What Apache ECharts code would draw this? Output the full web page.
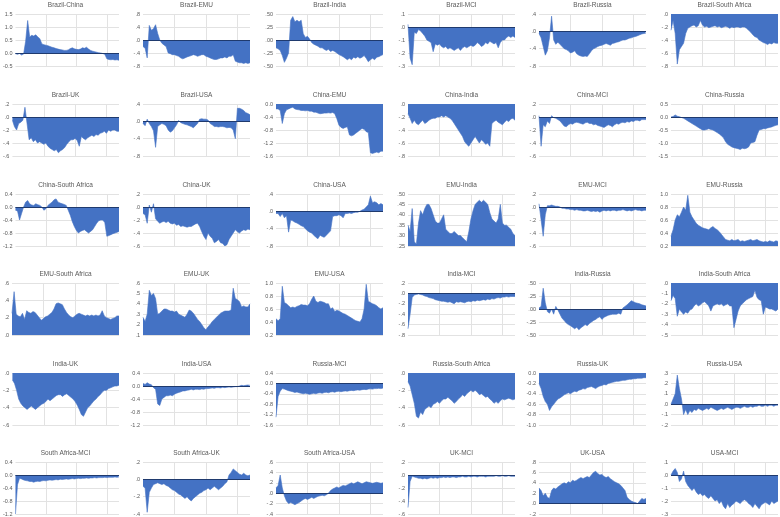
<!DOCTYPE html>
<html>
<head>
<meta charset="utf-8">
<title>Pairwise spreads</title>
<script src="https://cdn.jsdelivr.net/npm/echarts@6/dist/echarts.min.js"></script>
<style>
	html, body { margin: 0; padding: 0; background: #fff; }
	#chart { width: 780px; height: 517px; }
</style>
</head>
<body>
<div id="chart"></div>
<script>
// panel titles, reading order, 6 per row
var titles = ['Brazil-China', 'Brazil-EMU', 'Brazil-India', 'Brazil-MCI', 'Brazil-Russia', 'Brazil-South Africa',
	'Brazil-UK', 'Brazil-USA', 'China-EMU', 'China-India', 'China-MCI', 'China-Russia',
	'China-South Africa', 'China-UK', 'China-USA', 'EMU-India', 'EMU-MCI', 'EMU-Russia',
	'EMU-South Africa', 'EMU-UK', 'EMU-USA', 'India-MCI', 'India-Russia', 'India-South Africa',
	'India-UK', 'India-USA', 'Russia-MCI', 'Russia-South Africa', 'Russia-UK', 'Russia-USA',
	'South Africa-MCI', 'South Africa-UK', 'South Africa-USA', 'UK-MCI', 'UK-USA', 'USA-MCI'];

// y tick labels of each panel, bottom to top
var tickLabels = [
	['-0.5', '0.0', '0.5', '1.0', '1.5'], ['-.8', '-.4', '.0', '.4', '.8'], ['-.50', '-.25', '.00', '.25', '.50'],
	['-.3', '-.2', '-.1', '.0', '.1'], ['-.8', '-.4', '.0', '.4'], ['-.8', '-.6', '-.4', '-.2', '.0'],
	['-.6', '-.4', '-.2', '.0', '.2'], ['-.8', '-.4', '.0', '.4'], ['-1.6', '-1.2', '-0.8', '-0.4', '0.0'],
	['-.8', '-.6', '-.4', '-.2', '.0'], ['-.6', '-.4', '-.2', '.0', '.2'], ['-1.5', '-1.0', '-0.5', '0.0', '0.5'],
	['-1.2', '-0.8', '-0.4', '0.0', '0.4'], ['-.6', '-.4', '-.2', '.0', '.2'], ['-.8', '-.4', '.0', '.4'],
	['.25', '.30', '.35', '.40', '.45', '.50'], ['-.6', '-.4', '-.2', '.0', '.2'], ['0.2', '0.4', '0.6', '0.8', '1.0'],
	['.0', '.2', '.4', '.6'], ['.1', '.2', '.3', '.4', '.5', '.6'], ['0.2', '0.4', '0.6', '0.8', '1.0'],
	['-.8', '-.6', '-.4', '-.2', '.0', '.2'], ['-.50', '-.25', '.00', '.25', '.50'], ['-.5', '-.4', '-.3', '-.2', '-.1', '.0'],
	['-.6', '-.4', '-.2', '.0'], ['-1.2', '-0.8', '-0.4', '0.0', '0.4'], ['-1.6', '-1.2', '-0.8', '-0.4', '0.0', '0.4'],
	['-.6', '-.4', '-.2', '.0'], ['-1.0', '-0.8', '-0.6', '-0.4', '-0.2', '0.0'], ['-.2', '-.1', '.0', '.1', '.2', '.3'],
	['-1.2', '-0.8', '-0.4', '0.0', '0.4'], ['-.4', '-.2', '.0', '.2'], ['-.4', '-.2', '.0', '.2', '.4', '.6'],
	['-.6', '-.4', '-.2', '.0', '.2'], ['-.2', '.0', '.2', '.4', '.6', '.8'], ['-.3', '-.2', '-.1', '.0', '.1']
];

// readings, 52 per panel
var brazilChina = [-0.03,-0.05,-0.02,-0.08,-0.04,0.45,1.25,0.62,0.68,0.65,0.7,0.62,0.55,0.35,0.32,0.3,0.28,0.25,0.22,0.2,0.17,0.15,0.13,0.12,0.1,0.1,0.12,0.17,0.2,0.16,0.14,0.13,0.15,0.2,0.18,0.22,0.15,0.1,0.07,0.05,0.03,0.01,0,-0.02,-0.05,-0.22,-0.25,-0.26,-0.25,-0.27,-0.26,-0.28];
var brazilEmu = [-0.2,-0.25,-0.55,0.45,0.3,0.35,0.47,0.2,0.0,-0.1,-0.15,-0.2,-0.4,-0.42,-0.45,-0.45,-0.48,-0.5,-0.55,-0.58,-0.55,-0.52,-0.5,-0.48,-0.45,-0.47,-0.5,-0.48,-0.45,-0.45,-0.5,-0.52,-0.55,-0.58,-0.6,-0.6,-0.58,-0.55,-0.55,-0.52,-0.55,-0.5,-0.5,-0.45,-0.65,-0.68,-0.7,-0.7,-0.72,-0.7,-0.72,-0.7];
var brazilIndia = [-0.15,-0.17,-0.2,-0.3,-0.43,-0.35,-0.25,0.38,0.45,0.35,0.38,0.35,0.38,0.12,0.05,0.07,0.02,-0.05,-0.08,-0.1,-0.12,-0.15,-0.15,-0.18,-0.2,-0.18,-0.22,-0.2,-0.22,-0.25,-0.28,-0.3,-0.32,-0.35,-0.38,-0.35,-0.38,-0.33,-0.35,-0.32,-0.35,-0.33,-0.3,-0.35,-0.42,-0.38,-0.35,-0.38,-0.33,-0.32,-0.3,-0.28];
var brazilMci = [0.02,-0.24,-0.29,-0.04,-0.05,-0.02,-0.03,-0.05,-0.07,-0.1,-0.11,-0.12,-0.19,-0.13,-0.14,-0.13,-0.15,-0.16,-0.15,-0.17,-0.16,-0.17,-0.18,-0.17,-0.16,-0.18,-0.16,-0.15,-0.16,-0.15,-0.14,-0.15,-0.14,-0.12,-0.13,-0.15,-0.14,-0.12,-0.13,-0.11,-0.12,-0.13,-0.12,-0.16,-0.12,-0.1,-0.1,-0.08,-0.07,-0.08,-0.07,-0.08];
var brazilRussia = [-0.05,-0.15,-0.35,-0.55,-0.45,-0.15,0.35,-0.2,-0.3,-0.25,-0.3,-0.35,-0.4,-0.42,-0.45,-0.5,-0.48,-0.45,-0.52,-0.55,-0.57,-0.58,-0.57,-0.58,-0.52,-0.45,-0.4,-0.38,-0.35,-0.33,-0.32,-0.3,-0.28,-0.3,-0.32,-0.28,-0.27,-0.25,-0.24,-0.22,-0.2,-0.2,-0.18,-0.16,-0.15,-0.13,-0.12,-0.1,-0.08,-0.06,-0.05,-0.04];
var brazilSouthAfrica = [-0.25,-0.1,-0.3,-0.77,-0.55,-0.5,-0.45,-0.3,-0.22,-0.2,-0.18,-0.17,-0.2,-0.18,-0.1,-0.17,-0.2,-0.19,-0.21,-0.2,-0.19,-0.18,-0.2,-0.19,-0.21,-0.2,-0.19,-0.2,-0.22,-0.2,-0.21,-0.2,-0.2,-0.21,-0.2,-0.2,-0.22,-0.25,-0.28,-0.32,-0.35,-0.36,-0.4,-0.42,-0.44,-0.45,-0.47,-0.45,-0.46,-0.44,-0.45,-0.45];
var brazilUk = [-0.05,-0.15,-0.2,-0.1,-0.08,-0.05,0.15,-0.1,-0.35,-0.32,-0.38,-0.35,-0.4,-0.38,-0.4,-0.42,-0.4,-0.45,-0.48,-0.5,-0.52,-0.5,-0.55,-0.52,-0.5,-0.47,-0.42,-0.38,-0.35,-0.35,-0.33,-0.36,-0.45,-0.3,-0.33,-0.35,-0.32,-0.3,-0.28,-0.3,-0.27,-0.28,-0.25,-0.24,-0.22,-0.25,-0.2,-0.22,-0.2,-0.2,-0.22,-0.22];
var brazilUsa = [-0.05,-0.1,0.05,-0.05,-0.12,-0.22,-0.6,-0.12,-0.08,-0.05,-0.07,-0.1,-0.2,-0.25,-0.22,-0.15,-0.08,0.02,-0.03,-0.05,-0.07,-0.08,-0.1,-0.12,-0.15,-0.1,-0.05,0.05,0.06,0.05,0.05,0.03,-0.05,-0.08,-0.12,-0.12,-0.13,-0.12,-0.12,-0.13,-0.15,-0.14,-0.15,-0.2,-0.4,0.3,0.3,0.28,0.25,0.2,0.18,0.15];
var chinaEmu = [-0.15,-0.15,-0.2,-0.6,-0.3,-0.18,-0.15,-0.12,-0.1,-0.15,-0.17,-0.18,-0.2,-0.2,-0.21,-0.2,-0.22,-0.22,-0.25,-0.25,-0.28,-0.3,-0.29,-0.28,-0.28,-0.27,-0.28,-0.26,-0.3,-0.45,-0.65,-0.72,-0.75,-0.72,-0.7,-0.95,-0.98,-0.95,-0.9,-0.85,-0.8,-0.75,-0.78,-0.85,-0.88,-1.5,-1.52,-1.5,-1.48,-1.5,-1.45,-1.45];
var chinaIndia = [-0.15,-0.22,-0.3,-0.25,-0.3,-0.32,-0.28,-0.25,-0.3,-0.28,-0.25,-0.23,-0.22,-0.22,-0.2,-0.2,-0.18,-0.2,-0.18,-0.2,-0.22,-0.25,-0.3,-0.35,-0.4,-0.45,-0.5,-0.58,-0.62,-0.65,-0.6,-0.55,-0.5,-0.55,-0.6,-0.55,-0.58,-0.62,-0.6,-0.65,-0.3,-0.27,-0.25,-0.28,-0.3,-0.32,-0.28,-0.25,-0.27,-0.23,-0.22,-0.25];
var chinaMci = [0.02,-0.45,-0.12,-0.15,-0.06,-0.1,0.02,-0.01,-0.02,-0.04,-0.06,-0.1,-0.14,-0.15,-0.12,-0.1,-0.11,-0.09,-0.08,-0.09,-0.1,-0.11,-0.09,-0.08,-0.1,-0.1,-0.12,-0.11,-0.13,-0.14,-0.15,-0.16,-0.14,-0.12,-0.13,-0.15,-0.12,-0.1,-0.11,-0.09,-0.08,-0.09,-0.07,-0.08,-0.06,-0.07,-0.05,-0.05,-0.06,-0.04,-0.04,-0.04];
var chinaRussia = [0.0,0.02,0.08,0.03,0.01,-0.02,-0.05,-0.1,-0.15,-0.2,-0.25,-0.3,-0.35,-0.4,-0.45,-0.5,-0.5,-0.48,-0.45,-0.48,-0.5,-0.55,-0.6,-0.65,-0.72,-0.8,-0.95,-1.05,-1.1,-1.15,-1.18,-1.2,-1.22,-1.25,-1.2,-1.22,-1.2,-1.15,-1.0,-0.98,-0.95,-0.7,-0.5,-0.48,-0.45,-0.45,-0.42,-0.4,-0.38,-0.35,-0.32,-0.3];
var chinaSouthAfrica = [-0.1,-0.12,-0.4,-0.2,0.0,0.15,0.2,0.1,0.06,0.05,0.1,0.07,0.05,0.0,-0.1,-0.05,0.05,0.1,0.15,0.22,0.25,0.15,0.12,0.1,0.08,0.05,-0.1,-0.25,-0.45,-0.6,-0.72,-0.8,-0.75,-0.72,-0.7,-0.75,-0.8,-0.75,-0.7,-0.6,-0.5,-0.42,-0.4,-0.4,-0.48,-0.9,-0.88,-0.85,-0.82,-0.8,-0.78,-0.75];
var chinaUk = [-0.1,-0.12,-0.25,0.03,-0.08,0.05,-0.18,-0.22,-0.25,-0.23,-0.22,-0.24,-0.22,-0.25,-0.26,-0.25,-0.28,-0.27,-0.3,-0.29,-0.3,-0.31,-0.3,-0.3,-0.28,-0.26,-0.25,-0.3,-0.38,-0.45,-0.5,-0.4,-0.45,-0.48,-0.55,-0.53,-0.5,-0.55,-0.56,-0.6,-0.58,-0.5,-0.45,-0.4,-0.35,-0.38,-0.4,-0.37,-0.35,-0.36,-0.34,-0.35];
var chinaUsa = [-0.05,-0.05,-0.12,-0.05,-0.15,-0.1,-0.48,-0.2,-0.22,-0.25,-0.27,-0.3,-0.33,-0.35,-0.4,-0.45,-0.48,-0.5,-0.55,-0.6,-0.63,-0.55,-0.58,-0.6,-0.55,-0.5,-0.45,-0.12,-0.1,-0.1,-0.08,-0.1,-0.15,-0.05,-0.05,-0.04,-0.05,-0.03,-0.02,-0.02,0.0,0.03,0.05,0.1,0.15,0.35,0.2,0.22,0.2,0.15,0.18,0.15];
var emuIndia = [0.35,0.32,0.43,0.27,0.26,0.36,0.42,0.4,0.43,0.45,0.45,0.43,0.4,0.37,0.36,0.36,0.38,0.4,0.33,0.32,0.31,0.31,0.32,0.31,0.3,0.3,0.29,0.28,0.27,0.32,0.38,0.42,0.45,0.46,0.47,0.46,0.47,0.46,0.45,0.41,0.38,0.37,0.36,0.38,0.45,0.36,0.35,0.35,0.34,0.33,0.31,0.3];
var emuMci = [0.05,-0.2,-0.45,-0.12,0.02,0.02,0.03,0.02,0.01,0.01,0.0,-0.02,-0.02,-0.03,-0.03,-0.04,-0.04,-0.05,-0.04,-0.05,-0.05,-0.06,-0.06,-0.05,-0.06,-0.07,-0.06,-0.07,-0.06,-0.08,-0.06,-0.05,-0.06,-0.05,-0.06,-0.05,-0.05,-0.06,-0.05,-0.05,-0.04,-0.05,-0.06,-0.05,-0.06,-0.05,-0.04,-0.05,-0.05,-0.06,-0.05,-0.05];
var emuRussia = [0.35,0.45,0.6,0.68,0.65,0.72,0.8,0.75,0.98,0.72,0.65,0.6,0.55,0.52,0.5,0.48,0.47,0.46,0.45,0.48,0.5,0.47,0.45,0.42,0.38,0.34,0.3,0.29,0.28,0.3,0.28,0.29,0.3,0.27,0.28,0.27,0.28,0.29,0.3,0.28,0.29,0.3,0.28,0.27,0.26,0.27,0.26,0.28,0.27,0.26,0.28,0.27];
var emuSouthAfrica = [0.25,0.5,0.24,0.22,0.21,0.25,0.18,0.28,0.26,0.25,0.27,0.26,0.23,0.2,0.17,0.19,0.21,0.22,0.24,0.26,0.3,0.36,0.37,0.36,0.35,0.3,0.26,0.23,0.21,0.2,0.22,0.24,0.25,0.24,0.23,0.22,0.23,0.22,0.23,0.22,0.23,0.22,0.23,0.28,0.22,0.2,0.19,0.18,0.19,0.2,0.22,0.22];
var emuUk = [0.27,0.23,0.3,0.53,0.48,0.5,0.45,0.3,0.31,0.33,0.35,0.35,0.34,0.33,0.33,0.32,0.33,0.3,0.29,0.28,0.27,0.3,0.34,0.33,0.31,0.28,0.25,0.23,0.2,0.17,0.15,0.18,0.2,0.23,0.25,0.27,0.29,0.31,0.32,0.33,0.33,0.33,0.34,0.55,0.45,0.44,0.42,0.37,0.38,0.37,0.37,0.4];
var emuUsa = [0.45,0.42,0.45,0.95,0.7,0.68,0.65,0.62,0.63,0.62,0.64,0.65,0.67,0.66,0.66,0.65,0.68,0.75,0.8,0.72,0.7,0.72,0.71,0.7,0.68,0.68,0.6,0.62,0.56,0.58,0.57,0.55,0.53,0.52,0.5,0.48,0.46,0.44,0.42,0.41,0.4,0.45,0.6,0.98,0.72,0.7,0.68,0.67,0.65,0.62,0.6,0.62];
var indiaMci = [-0.68,-0.4,-0.08,-0.03,-0.02,-0.01,-0.02,-0.03,-0.05,-0.06,-0.08,-0.09,-0.1,-0.12,-0.13,-0.14,-0.15,-0.15,-0.16,-0.17,-0.16,-0.18,-0.2,-0.16,-0.17,-0.16,-0.17,-0.18,-0.16,-0.15,-0.16,-0.14,-0.15,-0.13,-0.14,-0.13,-0.12,-0.13,-0.11,-0.12,-0.1,-0.11,-0.09,-0.08,-0.09,-0.07,-0.07,-0.06,-0.07,-0.06,-0.06,-0.06];
var indiaRussia = [0.02,0.05,0.4,0.12,-0.05,-0.08,0.0,-0.1,0.05,-0.02,-0.1,-0.18,-0.22,-0.27,-0.3,-0.32,-0.35,-0.38,-0.35,-0.4,-0.36,-0.33,-0.3,-0.32,-0.28,-0.25,-0.22,-0.2,-0.17,-0.15,-0.2,-0.16,-0.14,-0.12,-0.11,-0.1,-0.1,-0.1,-0.08,-0.1,0.02,0.05,0.08,0.12,0.16,0.14,0.12,0.11,0.1,0.08,0.07,0.06];
var indiaSouthAfrica = [-0.17,-0.12,-0.15,-0.32,-0.25,-0.28,-0.3,-0.28,-0.29,-0.26,-0.25,-0.22,-0.2,-0.22,-0.21,-0.19,-0.18,-0.2,-0.22,-0.27,-0.22,-0.21,-0.2,-0.21,-0.2,-0.22,-0.21,-0.2,-0.22,-0.22,-0.43,-0.35,-0.27,-0.22,-0.2,-0.18,-0.16,-0.15,-0.14,-0.13,-0.07,-0.14,-0.16,-0.17,-0.3,-0.23,-0.24,-0.25,-0.25,-0.26,-0.27,-0.25];
var indiaUk = [-0.08,-0.12,-0.2,-0.3,-0.35,-0.38,-0.4,-0.42,-0.4,-0.38,-0.4,-0.42,-0.4,-0.38,-0.36,-0.35,-0.33,-0.3,-0.32,-0.3,-0.28,-0.26,-0.25,-0.25,-0.27,-0.25,-0.24,-0.26,-0.28,-0.3,-0.33,-0.37,-0.42,-0.48,-0.5,-0.45,-0.4,-0.38,-0.35,-0.32,-0.3,-0.27,-0.25,-0.22,-0.2,-0.2,-0.18,-0.17,-0.16,-0.15,-0.15,-0.14];
var indiaUsa = [0.08,0.05,0.1,0.06,0.04,-0.05,-0.1,-0.55,-0.6,-0.4,-0.35,-0.3,-0.3,-0.28,-0.3,-0.25,-0.22,-0.2,-0.18,-0.15,-0.15,-0.13,-0.12,-0.1,-0.12,-0.1,-0.1,-0.11,-0.09,-0.1,-0.08,-0.08,-0.07,-0.06,-0.07,-0.05,-0.05,-0.06,-0.04,-0.05,-0.04,-0.03,-0.04,-0.03,-0.02,-0.02,0.0,0.02,0.01,0.02,0.03,0.02];
var russiaMci = [-1.3,-0.5,-0.3,-0.2,-0.22,-0.25,-0.28,-0.3,-0.32,-0.35,-0.33,-0.36,-0.38,-0.4,-0.38,-0.4,-0.42,-0.4,-0.38,-0.4,-0.37,-0.36,-0.38,-0.35,-0.34,-0.36,-0.33,-0.32,-0.34,-0.31,-0.3,-0.32,-0.3,-0.29,-0.3,-0.28,-0.27,-0.28,-0.26,-0.25,-0.26,-0.24,-0.23,-0.24,-0.22,-0.21,-0.22,-0.2,-0.2,-0.19,-0.2,-0.18];
var russiaSouthAfrica = [-0.1,-0.15,-0.25,-0.35,-0.5,-0.52,-0.45,-0.48,-0.42,-0.4,-0.38,-0.4,-0.36,-0.35,-0.33,-0.35,-0.32,-0.3,-0.3,-0.28,-0.3,-0.32,-0.35,-0.33,-0.3,-0.28,-0.25,-0.27,-0.24,-0.22,-0.2,-0.22,-0.2,-0.22,-0.25,-0.24,-0.26,-0.28,-0.27,-0.3,-0.32,-0.35,-0.33,-0.35,-0.32,-0.3,-0.31,-0.3,-0.29,-0.3,-0.31,-0.3];
var russiaUk = [-0.2,-0.3,-0.45,-0.55,-0.6,-0.72,-0.65,-0.6,-0.55,-0.5,-0.48,-0.45,-0.42,-0.4,-0.38,-0.4,-0.37,-0.35,-0.36,-0.33,-0.32,-0.3,-0.31,-0.28,-0.27,-0.26,-0.28,-0.3,-0.27,-0.25,-0.24,-0.22,-0.23,-0.2,-0.19,-0.18,-0.17,-0.16,-0.16,-0.15,-0.14,-0.14,-0.13,-0.12,-0.12,-0.11,-0.11,-0.1,-0.1,-0.1,-0.09,-0.09];
var russiaUsa = [0.0,0.05,0.1,0.28,0.15,0.05,-0.1,-0.05,-0.1,-0.06,-0.08,-0.05,-0.06,-0.04,-0.05,-0.06,-0.05,-0.04,-0.05,-0.03,-0.04,-0.05,-0.06,-0.05,-0.04,-0.05,-0.04,-0.03,-0.04,-0.05,-0.04,-0.03,-0.03,-0.04,-0.03,-0.02,-0.03,-0.03,-0.02,-0.03,-0.02,-0.02,-0.01,-0.02,-0.02,-0.01,-0.02,-0.01,-0.01,-0.02,-0.01,-0.01];
var southAfricaMci = [-1.2,-0.3,-0.1,-0.12,-0.15,-0.17,-0.18,-0.2,-0.2,-0.22,-0.2,-0.19,-0.2,-0.18,-0.17,-0.18,-0.16,-0.15,-0.16,-0.15,-0.14,-0.15,-0.13,-0.14,-0.13,-0.12,-0.13,-0.12,-0.11,-0.12,-0.11,-0.1,-0.11,-0.1,-0.1,-0.09,-0.1,-0.09,-0.09,-0.08,-0.09,-0.08,-0.08,-0.08,-0.07,-0.08,-0.07,-0.07,-0.07,-0.06,-0.07,-0.06];
var southAfricaUk = [-0.08,-0.1,-0.38,-0.15,-0.1,-0.06,-0.05,-0.04,-0.05,-0.06,-0.05,-0.07,-0.08,-0.1,-0.12,-0.13,-0.15,-0.17,-0.18,-0.2,-0.22,-0.2,-0.23,-0.25,-0.22,-0.2,-0.18,-0.16,-0.15,-0.13,-0.12,-0.1,-0.12,-0.1,-0.08,-0.1,-0.12,-0.1,-0.08,-0.05,-0.03,0.05,0.08,0.12,0.1,0.08,0.06,0.05,0.07,0.05,0.04,0.05];
var southAfricaUsa = [0.1,0.15,0.35,0.1,-0.05,-0.15,-0.2,-0.18,-0.2,-0.22,-0.2,-0.18,-0.15,-0.12,-0.1,-0.12,-0.1,-0.08,-0.1,-0.08,-0.06,-0.05,-0.04,-0.05,-0.03,0.0,0.05,0.08,0.1,0.12,0.1,0.13,0.15,0.14,0.16,0.18,0.2,0.18,0.2,0.22,0.2,0.18,0.2,0.22,0.21,0.2,0.19,0.2,0.21,0.2,0.19,0.2];
var ukMci = [-0.5,-0.1,-0.02,-0.03,-0.04,-0.05,-0.05,-0.06,-0.05,-0.06,-0.05,-0.04,-0.05,-0.04,-0.05,-0.04,-0.04,-0.03,-0.04,-0.03,-0.04,-0.03,-0.03,-0.04,-0.03,-0.03,-0.02,-0.03,-0.03,-0.02,-0.03,-0.02,-0.02,-0.03,-0.02,-0.02,-0.02,-0.03,-0.02,-0.02,-0.02,-0.02,-0.01,-0.02,-0.02,-0.01,-0.02,-0.02,-0.01,-0.02,-0.02,-0.02];
var ukUsa = [0.3,0.25,0.15,0.2,0.12,0.1,0.25,0.3,0.28,0.32,0.35,0.38,0.4,0.38,0.42,0.4,0.45,0.43,0.45,0.48,0.5,0.48,0.5,0.52,0.5,0.55,0.6,0.62,0.58,0.55,0.56,0.52,0.5,0.52,0.48,0.45,0.42,0.4,0.38,0.35,0.3,0.25,0.12,0.08,0.05,0.03,0.02,0.0,0.05,0.1,0.08,0.1];
var usaMci = [0.0,0.03,0.05,0.02,-0.05,-0.03,0.03,-0.05,-0.08,-0.1,-0.12,-0.1,-0.13,-0.15,-0.14,-0.16,-0.15,-0.17,-0.18,-0.16,-0.18,-0.2,-0.19,-0.22,-0.2,-0.24,-0.26,-0.22,-0.25,-0.23,-0.22,-0.2,-0.21,-0.22,-0.2,-0.19,-0.2,-0.22,-0.23,-0.25,-0.22,-0.24,-0.26,-0.23,-0.22,-0.21,-0.22,-0.23,-0.2,-0.22,-0.21,-0.2];

var panels = [brazilChina, brazilEmu, brazilIndia, brazilMci, brazilRussia, brazilSouthAfrica,
	brazilUk, brazilUsa, chinaEmu, chinaIndia, chinaMci, chinaRussia,
	chinaSouthAfrica, chinaUk, chinaUsa, emuIndia, emuMci, emuRussia,
	emuSouthAfrica, emuUk, emuUsa, indiaMci, indiaRussia, indiaSouthAfrica,
	indiaUk, indiaUsa, russiaMci, russiaSouthAfrica, russiaUk, russiaUsa,
	southAfricaMci, southAfricaUk, southAfricaUsa, ukMci, ukUsa, usaMci];

var colLeft = [12, 143, 276, 408, 539, 671];
var rowTop = [14, 104, 194, 283, 373, 462];
var plotW = 107, plotH = 52;
var vLines = [15, 30, 45]; // vertical gridlines, as reading index out of 51
var blue = '#4472C4';
var grey = '#595959';
var font = '"Liberation Sans", Arial, sans-serif';

var option = {
	animation: false,
	backgroundColor: '#fff',
	grid: [], xAxis: [], yAxis: [], series: [], graphic: []
};

panels.forEach(function (vals, i) {
	var col = i % 6, row = Math.floor(i / 6);
	var labels = tickLabels[i];
	var min = parseFloat(labels[0]);
	var max = parseFloat(labels[labels.length - 1]);
	var step = Math.round((max - min) / (labels.length - 1) * 1000) / 1000;
	var left = colLeft[col], top = rowTop[row];
	var n = vals.length - 1;
	var crossesZero = min < 0 && max > 0;

	option.grid.push({left: left, top: top, width: plotW, height: plotH});
	option.xAxis.push({
		type: 'category', gridIndex: i, boundaryGap: false,
		data: vals.map(function (v, k) { return k; }),
		axisLabel: {show: false}, axisTick: {show: false}, axisLine: {show: false},
		splitLine: {
			show: true,
			interval: function (k) { return vLines.indexOf(Math.round(k * 51 / n)) >= 0; },
			lineStyle: {color: '#e2e2e2', width: 1}
		}
	});
	option.yAxis.push({
		type: 'value', gridIndex: i, min: min, max: max, interval: step,
		axisLine: {show: false}, axisTick: {show: false},
		axisLabel: {
			fontSize: 5.5, color: grey, margin: 3, fontFamily: font,
			formatter: function (v) { return labels[Math.round((v - min) / step)]; }
		},
		splitLine: {lineStyle: {color: '#e2e2e2', width: 1}}
	});
	option.series.push({
		type: 'line', xAxisIndex: i, yAxisIndex: i, data: vals,
		symbol: 'none', silent: true,
		lineStyle: {width: 0.6, color: blue},
		areaStyle: {color: blue, opacity: 1},
		// dark zero line drawn over the fill
		markLine: crossesZero ? {
			silent: true, symbol: ['none', 'none'], animation: false,
			label: {show: false},
			lineStyle: {color: '#1f3a6e', width: 1.2, type: 'solid'},
			data: [{yAxis: 0}]
		} : undefined
	});
	option.graphic.push({
		type: 'text', x: left + plotW / 2, y: top - 9,
		style: {
			text: titles[i], fill: grey, fontSize: 6.5, fontFamily: font,
			textAlign: 'center', textVerticalAlign: 'middle', align: 'center', verticalAlign: 'middle'
		}
	});
});

var chart = echarts.init(document.getElementById('chart'));
chart.setOption(option);
</script>
</body>
</html>
